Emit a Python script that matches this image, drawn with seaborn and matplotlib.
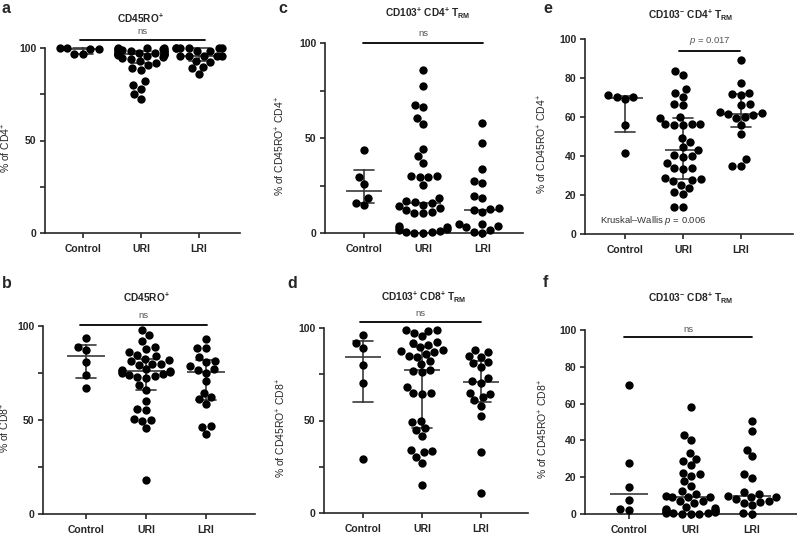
import numpy as np
import pandas as pd
import seaborn as sns
import matplotlib.pyplot as plt
from matplotlib.ticker import FixedLocator

groups = ['Control', 'URI', 'LRI']

# a: CD45RO+ (% of CD4+)
a_control = [100, 99.8, 99.5, 99.2, 97, 96.5]
a_uri = [100, 100, 100, 99.5, 99.5, 99, 99, 99, 98.5, 98.5, 98, 98, 97.5, 97.5, 97, 97, 97,
         96.5, 96.5, 96, 96, 95.5, 95, 94.5, 94, 93, 92, 91, 89, 88, 82, 80, 78, 75, 72.5]
a_lri = [100, 100, 100, 100, 100, 100, 98.5, 98.5, 95.5, 95.5, 95.5, 95.5, 95.5, 93, 92.5, 90, 89, 86]

# b: CD45RO+ (% of CD8+)
b_control = [93.5, 89, 87, 81, 74, 67]
b_uri = [98, 95, 92, 89, 88, 86, 84.5, 84, 82.5, 82, 81.5, 80, 80, 79.5, 77, 76.5, 76, 76,
         75.5, 75, 74.5, 74, 73.5, 73, 72.5, 68.5, 66, 60, 56, 55.5, 50.5, 50, 49.5, 45.5, 18]
b_lri = [93, 88.5, 88.5, 83.5, 81.5, 81, 78.5, 77, 76.5, 75, 70.5, 64.5, 62, 61, 58.5, 47, 46.5, 42.5]

# c: CD103+ CD4+ TRM (% of CD45RO+ CD4+)
c_control = [43.5, 29.5, 26, 18.5, 14.5, 16]
c_uri = [86, 77.5, 67.5, 66.5, 60.5, 57.5, 44, 40.5, 37, 30, 30, 29.5, 29.5, 25.5, 18.5, 17,
         16.5, 16, 15, 14, 13, 12, 11, 10.5, 10.5, 3.5, 3, 2.5, 2, 1.5, 1, 0.5, 0.5, 0, 0]
c_lri = [58, 47.5, 33.5, 27.5, 26.5, 19.5, 18.5, 13, 12.5, 12, 11, 5, 4.5, 3.5, 3, 1.5, 0.5, 0]

# d: CD103+ CD8+ TRM (% of CD45RO+ CD8+)
d_control = [92, 96, 89, 80, 70.5, 29]
d_uri = [99, 99, 98.5, 97.5, 95.5, 92.5, 92, 91, 89.5, 88, 87.5, 87, 86, 85, 84.5, 82, 80.5,
         77.5, 76.5, 76, 68, 65, 65, 64.5, 50, 49, 46, 45, 41.5, 34, 33.5, 33, 30.5, 27, 15]
d_lri = [88, 87, 85, 84.5, 81.5, 81, 79, 73, 71.5, 70.5, 65, 64.5, 62.5, 61, 58, 52.5, 33, 11]

# e: CD103- CD4+ TRM (% of CD45RO+ CD4+)
e_control = [70.5, 71.5, 69, 70.5, 56, 41.5]
e_uri = [83.5, 81.5, 74.5, 72.5, 70.5, 66.5, 66, 60, 59.5, 56.5, 56.5, 56, 56, 56.5, 49, 47,
         44.5, 43, 40.5, 40, 39.5, 36.5, 34, 34, 33.5, 28.5, 28, 27.5, 27, 25, 23.5, 21.5, 20.5, 14, 14]
e_lri = [89, 77.5, 72.5, 72, 71.5, 66.5, 66, 62.5, 62, 61.5, 61, 60, 59.5, 56, 51.5, 38.5, 35, 35]

# f: CD103- CD8+ TRM (% of CD45RO+ CD8+)
f_control = [70, 27.5, 14.5, 7.5, 2, 2.5]
f_uri = [58, 43, 40, 33, 30, 29, 26.5, 22.5, 21.5, 20.5, 18, 15, 12.5, 11, 10, 9.5, 9, 9, 7, 7,
         6, 4, 3, 2.5, 2, 2, 1.5, 1, 1, 0.5, 0.5, 0.5, 0, 0, 0]
f_lri = [50.5, 45, 35, 31.5, 21.5, 19.5, 12, 11, 10, 9.5, 9.5, 8, 7, 6.5, 6, 5, 0.5, 0]

sns.set_style('ticks')
plt.rcParams['font.family'] = ['Liberation Sans', 'DejaVu Sans']
plt.rcParams['mathtext.fontset'] = 'custom'
plt.rcParams['mathtext.rm'] = 'Liberation Sans'
plt.rcParams['mathtext.it'] = 'Liberation Sans:italic'
plt.rcParams['mathtext.bf'] = 'Liberation Sans:bold'

W, H = 797, 534
fig = plt.figure(figsize=(W / 100, H / 100), dpi=100)


def iqr(v):
    # GraphPad-style quartiles
    return (np.percentile(v, 25, method='weibull'), np.percentile(v, 75, method='weibull'))


panels = [
    # letter, data, title, ylabel, box(left,right,top,bottom px), xlim, yticks, minor ticks,
    # groups with IQR bars, significance bar, title pos, letter pos, ylabel offset px
    ('a', (a_control, a_uri, a_lri), r'$\mathbf{CD45RO^{+}}$', r'% of CD4$^{+}$',
     (45, 240, 48, 233), (-0.655, 2.707), [0, 50, 100], [25, 75], groups,
     (-0.05, 2.1, 104.3, 108.8, 'ns'), (140, 18), (2, 13), -32),
    ('c', (c_control, c_uri, c_lri), r'$\mathbf{CD103^{+}\ CD4^{+}\ T_{RM}}$', r'% of CD45RO$^{+}$ CD4$^{+}$',
     (325, 523, 43, 233), (-0.66, 2.69), [0, 50, 100], [25, 75], ['Control'],
     (-0.02, 2.02, 100, 104.8, 'ns'), (428, 13), (278, 13), -38),
    ('e', (e_control, e_uri, e_lri), r'$\mathbf{CD103^{-}\ CD4^{+}\ T_{RM}}$', r'% of CD45RO$^{+}$ CD4$^{+}$',
     (585, 793, 39, 234), (-0.69, 2.9), [0, 20, 40, 60, 80, 100], [], groups,
     (0.94, 1.99, 93.8, 98.8, r'$p$ = 0.017'), (691, 15), (543, 13), -36),
    ('b', (b_control, b_uri, b_lri), r'$\mathbf{CD45RO^{+}}$', r'% of CD8$^{+}$',
     (43, 255, 326, 514), (-0.72, 2.82), [0, 50, 100], [25, 75], groups,
     (-0.1, 2.02, 100.5, 105.5, 'ns'), (146, 297), (2, 288), -31),
    ('d', (d_control, d_uri, d_lri), r'$\mathbf{CD103^{+}\ CD8^{+}\ T_{RM}}$', r'% of CD45RO$^{+}$ CD8$^{+}$',
     (324, 528, 328, 513), (-0.66, 2.8), [0, 50, 100], [25, 75], groups,
     (-0.05, 2.0, 103.4, 107.8, 'ns'), (424, 297), (287, 288), -36),
    ('f', (f_control, f_uri, f_lri), r'$\mathbf{CD103^{-}\ CD8^{+}\ T_{RM}}$', r'% of CD45RO$^{+}$ CD8$^{+}$',
     (585, 797, 330, 514), (-0.715, 2.73), [0, 20, 40, 60, 80, 100], [], [],
     (-0.08, 2.0, 96, 100.2, 'ns'), (691, 298), (543, 287), -35),
]

line_col = '#3a3a3a'

for (letter, vals, title, ylabel, box, xlim, yticks, minor, bar_groups,
     sig, tpos, lpos, ylab_off) in panels:
    left, right, top, bottom = box
    ax = fig.add_axes([left / W, 1 - bottom / H, (right - left) / W, (bottom - top) / H])
    df = pd.DataFrame({
        'group': np.repeat(groups, [len(v) for v in vals]),
        'value': np.concatenate(vals),
    })
    spacing = (right - left) / (xlim[1] - xlim[0])  # px per category

    # median line
    sns.pointplot(data=df, x='group', y='value', order=groups, estimator='median',
                  errorbar=None, markers='_', linestyle='none', color=line_col,
                  markersize=0.62 * spacing * 0.72, markeredgewidth=1.2, ax=ax, zorder=2)
    # interquartile range
    if bar_groups:
        sns.pointplot(data=df[df['group'].isin(bar_groups)], x='group', y='value', order=groups,
                      estimator='median', errorbar=iqr, capsize=0.34, markers='_',
                      linestyle='none', color=line_col, markersize=0,
                      err_kws={'linewidth': 1.2}, ax=ax, zorder=2)
    sns.swarmplot(data=df, x='group', y='value', order=groups, color='black', size=6.0,
                  linewidth=0, ax=ax, zorder=3, warn_thresh=1)

    for coll in ax.collections:
        coll.set_clip_on(False)
    for ln in ax.lines:
        ln.set_clip_on(False)

    ax.set_xlim(*xlim)
    ax.set_ylim(0, 100)
    ax.set_yticks(yticks)
    ax.yaxis.set_minor_locator(FixedLocator(minor))
    ax.set_xlabel('')
    ax.set_ylabel(ylabel, fontsize=7.5)
    ax.yaxis.set_label_coords(ylab_off / (right - left), 0.46)
    sns.despine(ax=ax)
    for s in ('left', 'bottom'):
        ax.spines[s].set_linewidth(1.2)
    ax.tick_params(which='both', length=3.8, width=1.2, labelsize=7.5, pad=2.5)
    ax.tick_params(axis='x', pad=4)
    for lbl in ax.get_xticklabels() + ax.get_yticklabels():
        lbl.set_fontweight('bold')

    x0, x1, yl, yt, lab = sig
    ax.plot([x0, x1], [yl, yl], color='black', lw=1.3, clip_on=False)
    ax.text((x0 + x1) / 2, yt, lab, ha='center', va='center', fontsize=6.8, color='#555555')

    if letter == 'e':
        ax.text(0.48, 6.7, r'Kruskal–Wallis $p$ = 0.006', ha='center', va='center',
                fontsize=6.8, color='#333333')

    fig.text(tpos[0] / W, 1 - tpos[1] / H, title, ha='center', va='center', fontsize=7.3)
    fig.text(lpos[0] / W, 1 - lpos[1] / H, letter, ha='left', va='baseline',
             fontsize=11.5, fontweight='bold')

fig.savefig('out.png', dpi=100)
